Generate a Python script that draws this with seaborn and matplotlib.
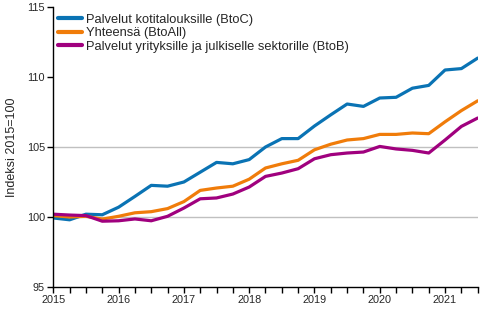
import numpy as np
import pandas as pd
import matplotlib
matplotlib.use("Agg")
import matplotlib.pyplot as plt
import seaborn as sns

# Quarterly index values, 2015Q1 - 2021Q3 (2015=100)
quarters = [f"{y}Q{q}" for y in range(2015, 2022) for q in range(1, 5)][:27]
btoc = [99.93, 99.8, 100.2, 100.16, 100.7, 101.47, 102.26, 102.2, 102.5,
        103.2, 103.9, 103.8, 104.1, 105.0, 105.6, 105.6, 106.5, 107.3,
        108.07, 107.9, 108.5, 108.55, 109.2, 109.4, 110.5, 110.6, 111.35]
btoall = [100.1, 100.0, 100.05, 99.85, 100.05, 100.3, 100.38, 100.6, 101.1,
          101.9, 102.07, 102.2, 102.7, 103.5, 103.8, 104.05, 104.8, 105.2,
          105.5, 105.6, 105.9, 105.9, 106.0, 105.95, 106.8, 107.6, 108.3]
btob = [100.2, 100.14, 100.1, 99.7, 99.73, 99.86, 99.73, 100.05, 100.64,
        101.3, 101.36, 101.64, 102.14, 102.9, 103.14, 103.45, 104.16, 104.45,
        104.57, 104.64, 105.04, 104.86, 104.76, 104.57, 105.5, 106.47, 107.07]

series_names = ["Palvelut kotitalouksille (BtoC)",
                "Yhteensä (BtoAll)",
                "Palvelut yrityksille ja julkiselle sektorille (BtoB)"]
colors = ["#0a73b4", "#f07c0a", "#a0007e"]
year_ticks = list(range(2015, 2022))
y_ticks = [95, 100, 105, 110, 115]

def quarter_to_num(q):
    return int(q[:4]) + (int(q[-1]) - 1) / 4

t = [quarter_to_num(q) for q in quarters]
df = pd.concat([
    pd.DataFrame({"t": t, "value": vals, "series": name})
    for name, vals in zip(series_names, [btoc, btoall, btob])
])

sns.set_style("white")
plt.rcParams["font.family"] = ["Liberation Sans", "DejaVu Sans"]

fig = plt.figure(figsize=(5, 3.3), dpi=100)
ax = fig.add_axes([0.1066, 0.1303, 0.8488, 0.8485])

for yv in (100, 105):
    ax.axhline(yv, color="#c0c0c0", lw=1, zorder=0)

sns.lineplot(data=df, x="t", y="value", hue="series", hue_order=series_names,
             palette=colors, linewidth=2.3, ax=ax, legend=True)

ax.set_xlim(2015, 2021.5)
ax.set_ylim(95, 115)
ax.set_xticks(year_ticks)
ax.set_xticklabels([str(y) for y in year_ticks])
ax.set_xticks(np.arange(2015, 2021.51, 0.25), minor=True)
ax.set_yticks(y_ticks)
ax.set_xlabel("")
ax.set_ylabel("Indeksi 2015=100", fontsize=9, labelpad=6)

for s in ("top", "right"):
    ax.spines[s].set_visible(False)
for s in ("left", "bottom"):
    ax.spines[s].set_color("black")
    ax.spines[s].set_linewidth(1)

ax.tick_params(axis="both", which="both", direction="out", length=4,
               width=1, color="black", labelsize=7.8, pad=2)
ax.tick_params(axis="x", which="both", bottom=True)
ax.tick_params(axis="y", left=True)

leg = ax.legend(loc="upper left", frameon=False, fontsize=9.3,
                handlelength=1.8, handletextpad=0.3, labelspacing=0.12,
                borderaxespad=0.0, bbox_to_anchor=(0.0, 0.995))
for line in leg.get_lines():
    line.set_linewidth(3)

fig.savefig("out.png", dpi=100)
